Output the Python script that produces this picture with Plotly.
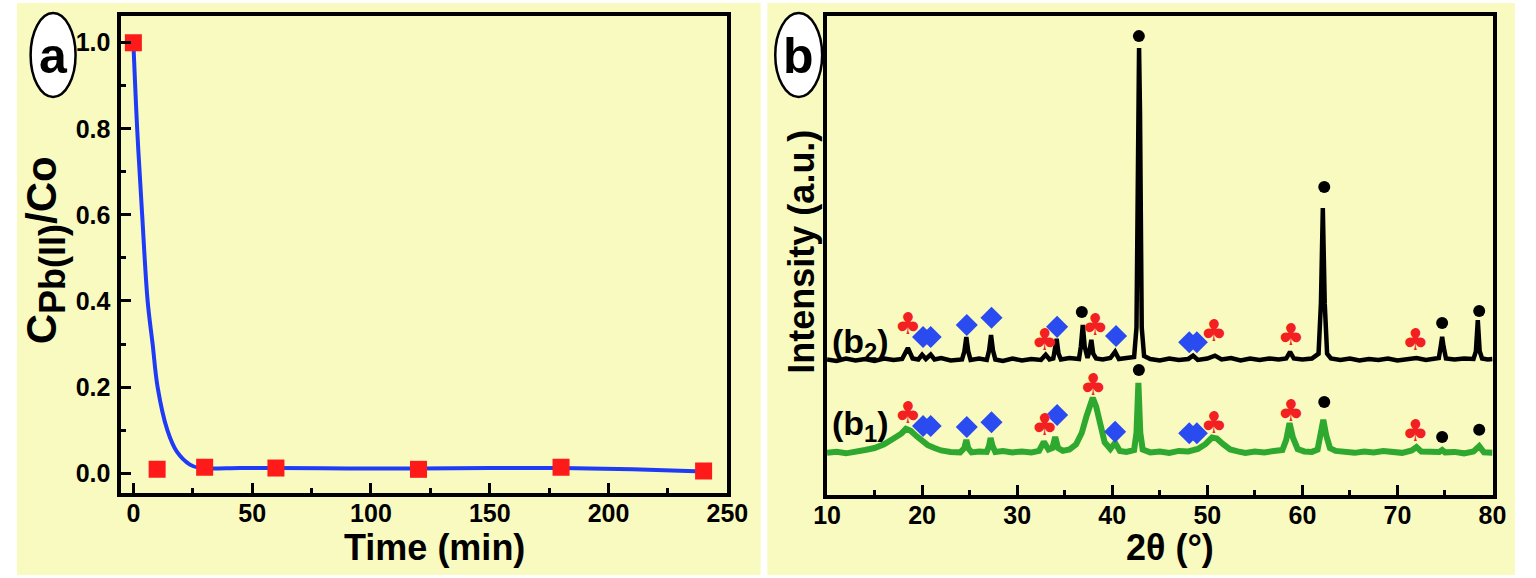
import plotly.graph_objects as go

W, H = 1536, 578

# panel (a): Pb(II) removal kinetics
time_pts = [0, 10, 30, 60, 120, 180, 240]
c_pts = [1.0, 0.009, 0.014, 0.012, 0.009, 0.014, 0.005]
fit_t = [0, 1.6, 3.7, 6.0, 8.1, 10.2, 14.3, 18.3, 23.8, 28, 45, 60, 90, 120, 150, 180, 210, 240]
fit_c = [1.0, 0.8, 0.6, 0.4, 0.3, 0.2, 0.1, 0.05, 0.02, 0.012, 0.012, 0.012, 0.011, 0.011, 0.012, 0.012, 0.009, 0.004]

# panel (b): XRD patterns
b2_theta = [10, 11, 12, 13, 14, 15, 16, 17, 17.9, 18.5, 19.0, 19.6, 20.0, 20.4, 20.9, 21.3, 22, 23,
            24.2, 24.45, 24.65, 24.85, 25.1, 26, 26.8, 27.05, 27.25, 27.45, 27.7, 28.5, 29.5, 30.5,
            31.5, 32.5, 33.0, 33.4, 33.8, 34.0, 34.15, 34.35, 34.6, 35.5, 36.5, 36.7, 36.9, 37.1,
            37.4, 37.6, 37.8, 38.0, 38.3, 39.0, 39.8, 40.3, 40.7, 41.5, 42.3, 42.55, 42.72, 42.82,
            42.92, 43.1, 43.35, 44, 45, 46, 47, 48, 48.5, 49, 50, 50.8, 51.5, 52.5, 53.5, 54.5, 55.5,
            56.5, 57.5, 58.3, 58.7, 59.1, 60, 61, 61.7, 61.95, 62.15, 62.35, 62.6, 63, 64, 65, 66, 67,
            68, 69, 70, 71, 72, 73, 74, 74.35, 74.55, 74.7, 74.85, 75.1, 76, 77, 78, 78.25, 78.45,
            78.65, 78.9, 79.5, 80]
b2_int = [28.3, 28.0, 28.5, 28.1, 28.4, 28.0, 28.5, 28.2, 28.4, 30.7, 28.5, 28.3, 29.3, 28.4, 29.3,
          28.3, 28.6, 28.1, 28.3, 30.0, 33.0, 30.0, 28.2, 28.5, 28.2, 30.2, 33.4, 30.2, 28.3, 28.0,
          28.5, 28.1, 28.4, 28.2, 29.3, 28.3, 28.5, 30.5, 32.6, 29.5, 28.3, 28.6, 28.4, 31.0, 35.5,
          31.0, 28.6, 30.0, 32.4, 29.5, 28.5, 28.3, 28.6, 29.9, 28.4, 28.6, 28.8, 35.0, 80.0, 93.3,
          80.0, 35.0, 29.0, 28.4, 28.1, 28.5, 28.2, 28.4, 29.1, 28.2, 28.5, 29.1, 28.3, 28.6, 28.1,
          28.5, 28.2, 28.5, 28.3, 28.5, 29.9, 28.5, 28.3, 28.5, 29.5, 40.0, 59.9, 40.0, 29.5, 28.5,
          28.2, 28.5, 28.1, 28.4, 28.2, 28.5, 28.1, 28.4, 28.6, 28.2, 28.4, 28.6, 31.0, 33.0, 31.0,
          28.5, 28.3, 28.5, 28.4, 30.0, 36.5, 30.0, 28.5, 28.3, 28.4]

b1_theta = [10, 11, 12, 13, 14, 15, 16, 17, 17.8, 18.3, 18.8, 19.4, 20.0, 20.6, 21.3, 22, 23, 24,
            24.45, 24.65, 24.85, 25.2, 26, 26.8, 27.05, 27.2, 27.4, 27.7, 28.5, 29.5, 30.5, 31.5,
            32.3, 32.8, 33.3, 33.7, 34.0, 34.3, 34.8, 35.5, 36.2, 36.8, 37.3, 37.7, 37.95, 38.3,
            38.7, 39.2, 39.8, 40.3, 40.8, 41.5, 42.3, 42.55, 42.75, 42.95, 43.2, 44, 45, 46, 47, 48,
            49, 49.8, 50.5, 51.0, 51.6, 52.4, 53.2, 54, 55, 56, 57, 57.9, 58.3, 58.65, 59.0, 59.5,
            60.2, 61, 61.6, 61.95, 62.2, 62.5, 62.9, 63.5, 64.5, 65.5, 66.5, 67.5, 68.5, 69.5, 70.5,
            71.5, 72.0, 72.5, 73.5, 74.4, 74.7, 75.0, 76, 77, 78, 78.6, 79.1, 80]
b1_int = [8.8, 9.0, 8.7, 9.2, 9.4, 9.8, 10.6, 11.8, 12.8, 13.8, 13.4, 12.3, 11.3, 10.4, 9.8, 9.3,
          9.0, 8.9, 9.8, 11.5, 9.8, 8.9, 9.1, 9.0, 10.3, 11.9, 10.3, 9.0, 9.2, 8.9, 9.1, 8.9, 9.2,
          11.1, 9.5, 9.8, 12.1, 9.8, 9.2, 9.5, 10.6, 13.0, 16.5, 19.5, 20.3, 18.5, 14.5, 11.0, 9.6,
          10.9, 9.2, 9.0, 9.4, 13.0, 23.4, 13.0, 9.5, 8.9, 9.1, 8.8, 9.2, 9.1, 9.6, 10.6, 12.0,
          11.8, 10.7, 9.5, 9.1, 8.8, 9.1, 8.9, 9.2, 9.4, 11.5, 15.0, 12.0, 9.6, 9.1, 9.0, 9.5,
          13.5, 15.7, 12.5, 9.8, 9.2, 9.0, 8.8, 9.1, 8.9, 9.2, 9.0, 8.8, 9.3, 10.0, 9.1, 8.9, 9.0,
          9.4, 8.9, 9.0, 8.7, 9.1, 10.2, 8.9, 8.8]

# phase markers (b2 set, then b1 set)
circle_x = [36.8, 42.8, 62.3, 74.7, 78.6, 42.8, 62.3, 74.7, 78.6]
circle_y = [38.2, 95.8, 64.3, 35.9, 38.4, 26.1, 19.4, 12.1, 13.6]
diamond_x = [20.1, 20.9, 24.7, 27.3, 34.2, 40.4, 48.1, 48.9,
             20.1, 20.9, 24.7, 27.3, 34.2, 40.3, 48.1, 48.9]
diamond_y = [33.0, 33.0, 35.5, 37.0, 35.1, 33.2, 31.9, 31.9,
             14.4, 14.4, 14.2, 15.2, 16.7, 13.2, 12.9, 12.9]
club_x = [18.5, 32.9, 38.2, 50.7, 58.8, 71.9, 18.5, 32.9, 38.0, 50.7, 58.8, 71.9]
club_y = [35.1, 31.9, 34.9, 33.8, 32.8, 31.9, 16.7, 14.0, 22.5, 14.6, 17.1, 12.9]

FONT = "Liberation Sans, Arial, sans-serif"
YELLOW = "#F8FABF"


def px_x(p):
    return p / W


def px_y(p):
    return 1 - p / H


fig = go.Figure()

fig.add_trace(go.Scatter(x=fit_t, y=fit_c, mode="lines", line=dict(color="#1F3BF5", width=4, shape="spline"),
                         xaxis="x", yaxis="y"))
fig.add_trace(go.Scatter(x=time_pts, y=c_pts, mode="markers",
                         marker=dict(symbol="square", size=17, color="#FF1A1A"), xaxis="x", yaxis="y"))

fig.add_trace(go.Scatter(x=b2_theta, y=b2_int, mode="lines", line=dict(color="black", width=4.5),
                         xaxis="x2", yaxis="y2"))
fig.add_trace(go.Scatter(x=b1_theta, y=b1_int, mode="lines", line=dict(color="#2EA82E", width=6),
                         xaxis="x2", yaxis="y2"))
fig.add_trace(go.Scatter(x=circle_x, y=circle_y, mode="markers",
                         marker=dict(symbol="circle", size=12, color="black"), xaxis="x2", yaxis="y2"))
fig.add_trace(go.Scatter(x=diamond_x, y=diamond_y, mode="markers",
                         marker=dict(symbol="diamond", size=17, color="#2A4BEF"), xaxis="x2", yaxis="y2"))
fig.add_trace(go.Scatter(x=club_x, y=club_y, mode="text", text=["♣"] * len(club_x),
                         textfont=dict(family="DejaVu Sans", size=30, color="#F22020"),
                         textposition="middle center", xaxis="x2", yaxis="y2"))

tickfont = dict(family=FONT, size=25, color="black", weight="bold")
axis_common = dict(showline=True, linewidth=4, linecolor="black", mirror=True, showgrid=False,
                   zeroline=False, ticks="inside", tickwidth=3, tickcolor="black", ticklen=10,
                   tickfont=tickfont)

fig.update_layout(
    width=W, height=H, autosize=False,
    margin=dict(l=0, r=0, t=0, b=0),
    paper_bgcolor="white",
    plot_bgcolor=YELLOW,
    showlegend=False,
    xaxis=dict(domain=[px_x(110), px_x(730)], range=[-5, 250], tickvals=[0, 50, 100, 150, 200, 250],
               minor=dict(ticks="inside", ticklen=5, tickwidth=3, tickcolor="black", dtick=25, tick0=0),
               ticklabelstandoff=-5, anchor="y", **axis_common),
    yaxis=dict(domain=[px_y(493), px_y(16)], range=[-0.046, 1.062], tickvals=[0, 0.2, 0.4, 0.6, 0.8, 1.0],
               tickformat=".1f", ticklabelstandoff=2,
               minor=dict(ticks="inside", ticklen=5, tickwidth=3, tickcolor="black", dtick=0.1, tick0=0),
               anchor="x", **axis_common),
    xaxis2=dict(domain=[px_x(832), px_x(1513)], range=[10, 80], tickvals=[10, 20, 30, 40, 50, 60, 70, 80],
                minor=dict(ticks="inside", ticklen=5, tickwidth=3, tickcolor="black", dtick=5, tick0=10),
                ticklabelstandoff=-5, anchor="y2", **axis_common),
    yaxis2=dict(domain=[px_y(495), px_y(16)], range=[0, 100], showline=True, linewidth=4, linecolor="black",
                mirror=True, showgrid=False, zeroline=False, showticklabels=False, ticks="", anchor="x2"),
)

# panel backgrounds and label ellipses
shapes = [
    dict(type="rect", xref="paper", yref="paper", x0=px_x(3), x1=px_x(764), y0=px_y(575), y1=px_y(3),
         fillcolor=YELLOW, line=dict(width=0), layer="below"),
    dict(type="rect", xref="paper", yref="paper", x0=px_x(771), x1=px_x(1536), y0=px_y(575), y1=px_y(3),
         fillcolor=YELLOW, line=dict(width=0), layer="below"),
    dict(type="circle", xref="paper", yref="paper", x0=px_x(17), x1=px_x(63), y0=px_y(97), y1=px_y(13),
         fillcolor="white", line=dict(color="black", width=2.5)),
    dict(type="circle", xref="paper", yref="paper", x0=px_x(779), x1=px_x(827), y0=px_y(97), y1=px_y(13),
         fillcolor="white", line=dict(color="black", width=2.5)),
]
fig.update_layout(shapes=shapes)


def ann(text, x, y, size, angle=0, xref="paper", yref="paper"):
    return dict(text=text, x=x, y=y, xref=xref, yref=yref, showarrow=False, textangle=angle,
                xanchor="center", yanchor="middle", font=dict(family=FONT, size=size, color="black"))


annotations = [
    ann("<b>a</b>", px_x(40), px_y(56), 50),
    ann("<b>b</b>", px_x(803), px_y(56), 50),
    ann("<b>C<sub><span style='font-size:36px'>Pb(II)</span></sub>/Co</b>", px_x(33), px_y(250), 42, angle=-90),
    ann("<b>Time (min)</b>", px_x(430), px_y(547), 36),
    ann("<b>Intensity (a.u.)</b>", px_x(805), px_y(252), 36, angle=-90),
    ann("<b>2θ (°)</b>", px_x(1183), px_y(547), 36),
    ann("<b>(b<sub>2</sub>)</b>", 13.5, 31.7, 34, xref="x2", yref="y2"),
    ann("<b>(b<sub>1</sub>)</b>", 13.5, 14.6, 34, xref="x2", yref="y2"),
]
fig.update_layout(annotations=annotations)

fig.write_html("out.html", config={"responsive": False, "displayModeBar": False},
               post_script="document.body.style.margin='0';")
